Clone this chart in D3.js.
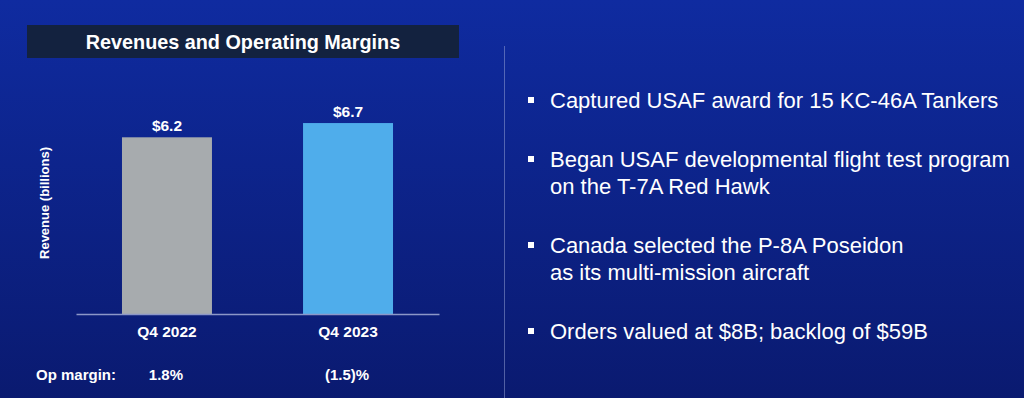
<!DOCTYPE html>
<html>
<head>
<meta charset="utf-8">
<script src="https://cdn.jsdelivr.net/npm/d3@7/dist/d3.min.js"></script>
<style>
  html, body { margin: 0; padding: 0; background: #0c2188; }
  svg { display: block; font-family: "Liberation Sans", Arial, sans-serif; }
</style>
</head>
<body>
<div id="chart"></div>
<script>
// chart data
const quarters = ["Q4 2022", "Q4 2023"];
const revenue = [6.2, 6.7];
const revenueLabels = ["$6.2", "$6.7"];
const opMargins = ["1.8%", "(1.5)%"];
const barColors = ["#a7abae", "#4fadeb"];

// highlights on the right side
const bullets = [
    ["Captured USAF award for 15 KC-46A Tankers"],
    ["Began USAF developmental flight test program", "on the T-7A Red Hawk"],
    ["Canada selected the P-8A Poseidon", "as its multi-mission aircraft"],
    ["Orders valued at $8B; backlog of $59B"]
];
const bulletBaselines = [108, 167, 253, 339];

const width = 1024;
const height = 398;

const svg = d3.select("#chart")
    .append("svg")
    .attr("width", width)
    .attr("height", height);

// background gradient
const defs = svg.append("defs");
const bg = defs.append("linearGradient")
    .attr("id", "bg")
    .attr("x1", 0).attr("y1", 0)
    .attr("x2", 0).attr("y2", 1);
bg.append("stop").attr("offset", "0%").attr("stop-color", "#0f2ba0");
bg.append("stop").attr("offset", "100%").attr("stop-color", "#0a1a70");

svg.append("rect")
    .attr("width", width)
    .attr("height", height)
    .attr("fill", "url(#bg)");

// title box
svg.append("rect")
    .attr("x", 27).attr("y", 25)
    .attr("width", 432).attr("height", 33)
    .attr("fill", "#13223f");

svg.append("text")
    .attr("x", 243).attr("y", 49)
    .attr("text-anchor", "middle")
    .attr("fill", "#ffffff")
    .attr("font-size", 19.8)
    .attr("font-weight", "bold")
    .text("Revenues and Operating Margins");

// scales
const x = d3.scaleBand()
    .domain(quarters)
    .range([76, 439])
    .paddingInner(0.503)
    .paddingOuter(0.254);

const y = d3.scaleLinear()
    .domain([0, 7])
    .range([314, 314 - 7 * 28.5]);

// bars
svg.selectAll(".bar")
    .data(quarters)
    .enter().append("rect")
    .attr("class", "bar")
    .attr("x", d => x(d))
    .attr("y", (d, i) => y(revenue[i]))
    .attr("width", x.bandwidth())
    .attr("height", (d, i) => y(0) - y(revenue[i]))
    .attr("fill", (d, i) => barColors[i]);

// value labels
svg.selectAll(".value")
    .data(quarters)
    .enter().append("text")
    .attr("class", "value")
    .attr("x", d => x(d) + x.bandwidth() / 2)
    .attr("y", (d, i) => y(revenue[i]) - 6)
    .attr("text-anchor", "middle")
    .attr("fill", "#ffffff")
    .attr("font-size", 15.5)
    .attr("font-weight", "bold")
    .text((d, i) => revenueLabels[i]);

// x axis (baseline + category labels)
const xAxis = svg.append("g")
    .attr("transform", `translate(0,${y(0)})`)
    .call(d3.axisBottom(x).tickSize(0).tickPadding(12));
xAxis.select(".domain")
    .attr("stroke", "#8c97c8")
    .attr("stroke-width", 1.5);
xAxis.selectAll(".tick text")
    .attr("fill", "#ffffff")
    .attr("font-size", 15.5)
    .attr("font-weight", "bold")
    .attr("font-family", "'Liberation Sans', Arial, sans-serif");

// y axis title
svg.append("text")
    .attr("transform", "translate(49,203) rotate(-90)")
    .attr("text-anchor", "middle")
    .attr("fill", "#ffffff")
    .attr("font-size", 13)
    .attr("font-weight", "bold")
    .text("Revenue (billions)");

// operating margins row
svg.append("text")
    .attr("x", 36).attr("y", 380)
    .attr("fill", "#ffffff")
    .attr("font-size", 15)
    .attr("font-weight", "bold")
    .text("Op margin:");

svg.selectAll(".margin")
    .data(quarters)
    .enter().append("text")
    .attr("class", "margin")
    .attr("x", d => x(d) + x.bandwidth() / 2 - 1)
    .attr("y", 380)
    .attr("text-anchor", "middle")
    .attr("fill", "#ffffff")
    .attr("font-size", 15)
    .attr("font-weight", "bold")
    .text((d, i) => opMargins[i]);

// divider
svg.append("line")
    .attr("x1", 504.5).attr("x2", 504.5)
    .attr("y1", 46).attr("y2", height)
    .attr("stroke", "#9aa6d6")
    .attr("stroke-opacity", 0.5)
    .attr("stroke-width", 1);

// bullet list
const items = svg.selectAll(".item")
    .data(bullets)
    .enter().append("g")
    .attr("class", "item")
    .attr("transform", (d, i) => `translate(0,${bulletBaselines[i]})`);

items.append("rect")
    .attr("x", 528).attr("y", -11)
    .attr("width", 6).attr("height", 6)
    .attr("fill", "#ffffff");

items.selectAll("text")
    .data(d => d)
    .enter().append("text")
    .attr("x", 550)
    .attr("y", (d, j) => j * 26.5)
    .attr("fill", "#ffffff")
    .attr("font-size", 22)
    .text(d => d);
</script>
</body>
</html>
